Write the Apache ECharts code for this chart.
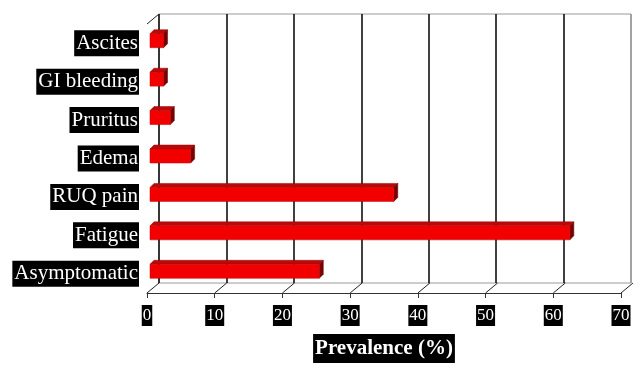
<!DOCTYPE html>
<html>
<head>
<meta charset="utf-8">
<script src="https://cdn.jsdelivr.net/npm/echarts@6/dist/echarts.min.js"></script>
<style>
html,body{margin:0;padding:0;background:#fff;}
#chart{width:643px;height:380px;}
</style>
</head>
<body>
<div id="chart"></div>
<script>
// ---- data ----
const categories = ['Asymptomatic', 'Fatigue', 'RUQ pain', 'Edema', 'Pruritus', 'GI bleeding', 'Ascites'];
const prevalence = [25, 62, 36, 6, 3, 2, 2];
const xMin = 0;
const xMax = 70;
const xStep = 10;
const axisTitle = 'Prevalence (%)';

const serif = "'Liberation Serif', 'Times New Roman', serif";
const tickValues = [];
for (let v = xMin; v <= xMax; v += xStep) tickValues.push(v);

const chart = echarts.init(document.getElementById('chart'), null, {renderer: 'canvas'});

const DX = 12, DY = 10;       // wall depth offset
const BDX = 3, BDY = -2.5;    // bar position in depth
const BH = 14;                // bar front height
const BD = 4;                 // bar depth

chart.setOption({
  animation: false,
  grid: [
    {left: 159, right: 12, top: 14, bottom: 97, show: true, borderColor: '#9a9a9a', borderWidth: 1, containLabel: false},
    {left: 147, right: 22, top: 24, bottom: 87, containLabel: false}
  ],
  xAxis: [
    {
      gridIndex: 0, type: 'value', min: xMin, max: xMax, interval: xStep,
      axisLine: {show: false}, axisTick: {show: false}, axisLabel: {show: false},
      splitLine: {show: true, lineStyle: {color: ['#111','#111','#111','#111','#111','#111','#111','#9a9a9a'], width: 1.6}}
    },
    {
      gridIndex: 1, type: 'value', min: xMin, max: xMax, interval: xStep,
      axisLine: {show: true, onZero: false, lineStyle: {color: '#333', width: 1}},
      axisTick: {show: true, length: 5, lineStyle: {color: '#333'}},
      splitLine: {show: false},
      axisLabel: {
        margin: 12, color: '#fff', backgroundColor: '#000', fontFamily: serif,
        fontSize: 17, lineHeight: 19, padding: [1, 1, 1, 1]
      },
      name: axisTitle, nameLocation: 'middle', nameGap: 41,
      nameTextStyle: {
        color: '#fff', backgroundColor: '#000', fontFamily: serif, fontWeight: 'bold',
        fontSize: 21, lineHeight: 25, padding: [2, 2, 2, 2]
      }
    }
  ],
  yAxis: [
    {gridIndex: 0, type: 'category', data: categories, show: false},
    {
      gridIndex: 1, type: 'category', data: categories,
      axisLine: {show: false}, axisTick: {show: false}, splitLine: {show: false},
      axisLabel: {
        margin: 8, color: '#fff', backgroundColor: '#000', fontFamily: serif,
        fontSize: 21, lineHeight: 24, padding: [1, 1, 1, 2]
      }
    }
  ],
  series: [
    {
      type: 'custom', xAxisIndex: 1, yAxisIndex: 1, silent: true,
      data: tickValues.map(v => [v, 0]),
      encode: {x: 0, y: 1},
      renderItem: function (params, api) {
        const cs = params.coordSys;
        const p = api.coord([api.value(0), 0]);
        const bottom = cs.y + cs.height;
        const children = [{
          type: 'line',
          shape: {x1: p[0], y1: bottom, x2: p[0] + DX, y2: bottom - DY},
          style: {stroke: '#222', lineWidth: 1}
        }];
        if (params.dataIndex === 0) {
          children.push({
            type: 'line',
            shape: {x1: cs.x, y1: cs.y, x2: cs.x + DX, y2: cs.y - DY},
            style: {stroke: '#222', lineWidth: 1}
          });
        }
        return {type: 'group', children: children};
      }
    },
    {
      type: 'custom', xAxisIndex: 1, yAxisIndex: 1, silent: true,
      data: prevalence.map((v, i) => [v, categories[i]]),
      encode: {x: 0, y: 1},
      renderItem: function (params, api) {
        const idx = api.value(1);
        const p0 = api.coord([0, idx]);
        const p1 = api.coord([api.value(0), idx]);
        const x0 = p0[0] + BDX, x1 = p1[0] + BDX;
        const cy = p0[1] + BDY;
        const top = cy - BH / 2, bot = cy + BH / 2;
        return {
          type: 'group',
          children: [
            {type: 'polygon', shape: {points: [[x0, top], [x1, top], [x1 + BD, top - BD], [x0 + BD, top - BD]]},
             style: {fill: '#b80a0a', stroke: '#9a0000', lineWidth: 0.5}},
            {type: 'polygon', shape: {points: [[x1, top], [x1 + BD, top - BD], [x1 + BD, bot - BD], [x1, bot]]},
             style: {fill: '#7a0000', stroke: '#600000', lineWidth: 0.5}},
            {type: 'rect', shape: {x: x0, y: top, width: x1 - x0, height: BH},
             style: {fill: '#f20000', stroke: '#c00000', lineWidth: 0.5}}
          ]
        };
      }
    }
  ]
});
</script>
</body>
</html>
